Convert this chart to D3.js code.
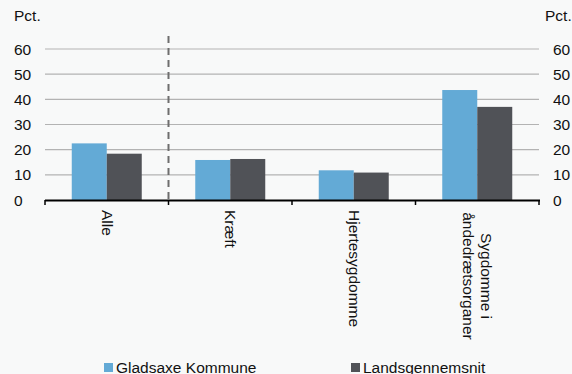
<!DOCTYPE html>
<html><head><meta charset="utf-8">
<script src="https://cdn.jsdelivr.net/npm/d3@7"></script>
<style>body{margin:0;background:#f8f9f9;}svg{display:block;font-family:"Liberation Sans",Arial,sans-serif;}</style>
</head><body>
<script>
const categories = [["Alle"],["Kræft"],["Hjertesygdomme"],["Sygdomme i","åndedrætsorganer"]];
const seriesNames = ["Gladsaxe Kommune","Landsgennemsnit"];
const gladsaxe = [22.5, 15.9, 11.8, 43.7];
const lands = [18.4, 16.3, 10.9, 37.0];
const yTicks = [0,10,20,30,40,50,60];
const colors = ["#63aad6","#505257"];

const W=572,H=374;
const svg=d3.select("body").append("svg").attr("width",W).attr("height",H);
svg.append("rect").attr("width",W).attr("height",H).attr("fill","#f8f9f9");
const m={l:45,r:539,t:49,b:200};
const x=d3.scaleBand().domain(d3.range(categories.length)).range([m.l,m.r]);
const xs=d3.scaleBand().domain([0,1]).range([0,70]);
const y=d3.scaleLinear().domain([0,60]).range([m.b,m.t]);

// gridlines
svg.append("g").selectAll("line").data(yTicks.filter(d=>d>0)).join("line")
 .attr("x1",m.l).attr("x2",m.r).attr("y1",d=>y(d)).attr("y2",d=>y(d))
 .attr("stroke","#b3b3b3").attr("stroke-width",1.2);

// tick labels
const fs=15.5;
svg.append("g").selectAll("text").data(yTicks).join("text")
 .attr("x",14).attr("y",d=>y(d)+5.5).text(d=>d).attr("font-size",fs).attr("fill","#111");
svg.append("g").selectAll("text").data(yTicks).join("text")
 .attr("x",553).attr("y",d=>y(d)+5.5).text(d=>d).attr("font-size",fs).attr("fill","#111");
svg.append("text").attr("x",14).attr("y",21).text("Pct.").attr("font-size",fs).attr("fill","#111");
svg.append("text").attr("x",545).attr("y",21).text("Pct.").attr("font-size",fs).attr("fill","#111");

// bars
const data=[gladsaxe,lands];
data.forEach((vals,si)=>{
  svg.append("g").selectAll("rect").data(vals).join("rect")
   .attr("x",(d,i)=>x(i)+x.bandwidth()/2-35+xs(si))
   .attr("width",xs.bandwidth())
   .attr("y",d=>y(d)).attr("height",d=>y(0)-y(d))
   .attr("fill",colors[si]);
});

// dashed separator
svg.append("line").attr("x1",x(1)).attr("x2",x(1)).attr("y1",36).attr("y2",m.b)
 .attr("stroke","#6e6e6e").attr("stroke-width",2).attr("stroke-dasharray","7,5");

// x axis
svg.append("line").attr("x1",m.l).attr("x2",m.r+1).attr("y1",m.b+0.5).attr("y2",m.b+0.5).attr("stroke","#000").attr("stroke-width",2);
const bounds=d3.range(categories.length+1).map(i=>i<categories.length?x(i):m.r);
svg.append("g").selectAll("line").data(bounds).join("line")
 .attr("x1",d=>d).attr("x2",d=>d).attr("y1",m.b).attr("y2",m.b+5).attr("stroke","#000").attr("stroke-width",1.5);

// category labels (rotated)
categories.forEach((lines,i)=>{
  const cx=x(i)+x.bandwidth()/2;
  const g=svg.append("g").attr("transform",`translate(${cx},210) rotate(90)`);
  const n=lines.length, lh=18;
  lines.forEach((t,j)=>{
    g.append("text").attr("x",n>1?66:0).attr("y",(j-(n-1)/2)*lh+5)
     .attr("text-anchor",n>1?"middle":"start")
     .attr("font-size",fs).attr("fill","#111").text(t);
  });
});

// legend
const leg=[{x:104,tx:116},{x:351,tx:363}];
seriesNames.forEach((s,i)=>{
  svg.append("rect").attr("x",leg[i].x).attr("y",363).attr("width",9).attr("height",9).attr("fill",colors[i]);
  svg.append("text").attr("x",leg[i].tx).attr("y",372.5).attr("font-size",fs).attr("fill","#111").text(s);
});
</script>
</body></html>
